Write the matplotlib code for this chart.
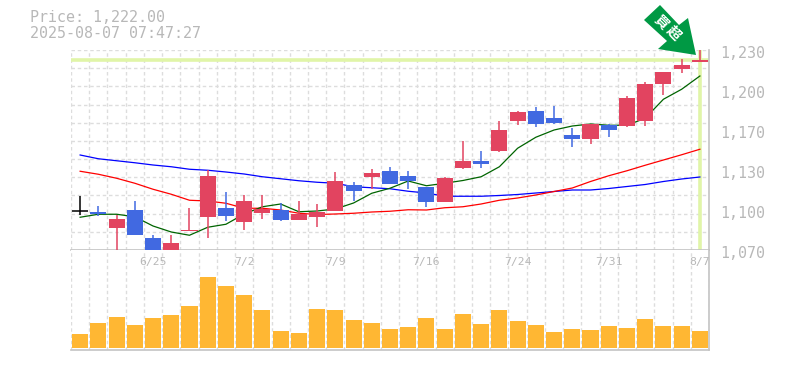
import numpy as np
import matplotlib
matplotlib.use("Agg")
import matplotlib.pyplot as plt
from matplotlib.patches import Polygon

W, H = 785, 370
GRAY = "#b8b8b8"
GRID = "#dddddd"
UP = "#e24460"
DOWN = "#4169e1"
VOL = "#ffb733"
MARK = "#e0f5a8"

opens = [1101, 1100.4, 1087.6, 1102, 1079.6, 1070, 1085.2, 1096.4, 1103.6, 1092.4,
         1099.6, 1102, 1094, 1096.4, 1101.2, 1122, 1128.4, 1133.2, 1129.2, 1120.4,
         1108.4, 1135.6, 1141.2, 1149.2, 1173.2, 1181.2, 1175.6, 1162, 1158.8, 1170,
         1169.2, 1173.2, 1202.8, 1214.8, 1220.4]
highs = [1113.4, 1105.2, 1098, 1109.4, 1082, 1082, 1103.6, 1134, 1116.4, 1114,
         1114, 1107.6, 1109.2, 1106.8, 1132.4, 1124.4, 1134.8, 1136.4, 1133.2, 1120.4,
         1128.4, 1157.2, 1149.2, 1173.2, 1181.2, 1184.4, 1185.2, 1167.6, 1170.8, 1170.8,
         1193.2, 1204.4, 1212.4, 1222.8, 1230]
lows = [1098, 1097.2, 1069.4, 1082, 1068.4, 1069.4, 1085.2, 1079.6, 1093.2, 1086,
        1094.8, 1093.2, 1094, 1088.4, 1101.2, 1109.2, 1118.8, 1122.8, 1118.8, 1104.4,
        1108.4, 1134.8, 1135.6, 1148.4, 1170, 1168.4, 1170.8, 1152.4, 1154.8, 1160.4,
        1168.4, 1169.2, 1194, 1211.6, 1220.4]
closes = [1101, 1098.8, 1094.8, 1082, 1068.4, 1075.6, 1086, 1129.2, 1097.2, 1109.2,
          1102.8, 1094, 1098.8, 1100.4, 1125.2, 1117.2, 1131.6, 1122.8, 1125.2, 1108.4,
          1127.6, 1141.2, 1138.8, 1166, 1180.4, 1170.8, 1171.6, 1158.8, 1170.8, 1166,
          1191.6, 1202.8, 1212.4, 1218, 1222]
ma_short = [1096.2, 1098.6, 1098.6, 1096.6, 1089.2, 1084.4, 1081.8, 1088.2, 1090.6, 1098.8,
            1104.6, 1106.8, 1100.6, 1101.2, 1102.8, 1107.6, 1115.4, 1119.4, 1125.2, 1121.4,
            1123.4, 1125.6, 1128.6, 1136.6, 1151.4, 1160.2, 1166, 1169.2, 1170.8, 1169.8,
            1169.8, 1175.4, 1190.6, 1198.6, 1209.2]
ma_mid = [1133, 1130.6, 1127.4, 1123.4, 1118.6, 1114.6, 1109.8, 1109.2, 1107.4, 1103.4,
          1103.4, 1102, 1099.4, 1098.4, 1098.8, 1099.4, 1100.4, 1101, 1102.2, 1102,
          1103.8, 1104.6, 1106.8, 1109.8, 1111.6, 1114, 1116.8, 1119.6, 1124.8, 1129.4,
          1133.4, 1137.8, 1142, 1146.2, 1150.6]
ma_long = [1146, 1143, 1141.4, 1139.8, 1138, 1136.6, 1134.6, 1133.8, 1132.4, 1130.8,
           1128.6, 1127, 1125.4, 1124.2, 1123.4, 1120.6, 1119.8, 1119, 1117, 1115.6,
           1113, 1113, 1113, 1113.6, 1114.4, 1115.6, 1116.8, 1118, 1118, 1119.2,
           1120.8, 1122.4, 1124.8, 1126.8, 1128.4]
volumes = [1400, 2500, 3100, 2300, 3000, 3300, 4200, 7100, 6200, 5300,
           3800, 1700, 1500, 3900, 3800, 2800, 2500, 1900, 2100, 3000,
           1900, 3400, 2400, 3800, 2700, 2300, 1600, 1900, 1800, 2200,
           2000, 2900, 2200, 2200, 1700]
date_idx = [4, 9, 14, 19, 24, 29, 34]
date_labels = ["6/25", "7/2", "7/9", "7/16", "7/24", "7/31", "8/7"]
price_ticks = [1230, 1198, 1166, 1134, 1102, 1070]
price_labels = ["1,230", "1,200", "1,170", "1,130", "1,100", "1,070"]
last_price = 1222
info_lines = ["Price: 1,222.00", "2025-08-07 07:47:27"]
arrow_text = "買超"


def px_axes(fig, x0, y0, x1, y1):
    # pixel box measured from the top left of the picture
    return fig.add_axes([x0 / W, 1 - y1 / H, (x1 - x0) / W, (y1 - y0) / H])


def style_axes(ax):
    ax.set_xlim(-0.5, 34.5)
    ax.set_xticks(np.arange(-0.5, 35))
    ax.tick_params(length=0, labelbottom=False, labelleft=False)
    ax.grid(True, color=GRID, lw=1.0, ls=(0, (2.5, 2)))
    ax.set_axisbelow(True)
    for side in ["left", "top"]:
        ax.spines[side].set_visible(False)
    for side in ["right", "bottom"]:
        ax.spines[side].set_color("#c4c4c4")
        ax.spines[side].set_linewidth(1.2)


def draw_candles(ax, x):
    for i in x:
        o, c = opens[i], closes[i]
        if o == c:
            color = "black"
        elif c > o:
            color = UP
        else:
            color = DOWN
        ax.vlines(i, lows[i], highs[i], color=color, lw=1.1, zorder=4, clip_on=False)
        if o == c:
            ax.hlines(o, i - 0.44, i + 0.44, color=color, lw=1.1, zorder=4)
        else:
            ax.bar(i, abs(c - o), bottom=min(o, c), width=0.88, color=color, zorder=5,
                   clip_on=False)


def main():
    x = np.arange(len(closes))
    fig = plt.figure(figsize=(W / 100, H / 100), dpi=100)
    ax = px_axes(fig, 71, 50, 709, 250)
    ax_vol = px_axes(fig, 71, 250, 709, 350)

    style_axes(ax)
    ax.set_ylim(1070, 1230)
    ax.set_yticks(np.linspace(1070, 1230, 12))
    ax.axhline(last_price, color=MARK, lw=2.6, zorder=2)
    ax.axvline(x[-1], color=MARK, lw=2.6, zorder=2)
    ax.plot(x, ma_long, color="#0000ff", lw=0.9, zorder=3)
    ax.plot(x, ma_mid, color="#ff0000", lw=0.9, zorder=3)
    ax.plot(x, ma_short, color="#006400", lw=0.9, zorder=3)
    draw_candles(ax, x)

    for val, lab in zip(price_ticks, price_labels):
        ax.annotate(lab, xy=(1, val), xycoords=ax.get_yaxis_transform(),
                    xytext=(8, -2.2), textcoords="offset points", ha="left", va="center",
                    color=GRAY, fontsize=10.8, family="DejaVu Sans Mono",
                    annotation_clip=False)

    style_axes(ax_vol)
    ax_vol.set_ylim(-200, 9800)
    ax_vol.set_yticks([])
    ax_vol.bar(x, volumes, width=0.88, color=VOL, zorder=3)
    for i, lab in zip(date_idx, date_labels):
        ax_vol.annotate(lab, xy=(i, 1), xycoords=ax_vol.get_xaxis_transform(),
                        xytext=(0, -8.6), textcoords="offset points", ha="center", va="center",
                        color=GRAY, fontsize=8.2, family="DejaVu Sans Mono")

    for y, line in zip([18, 33], info_lines):
        fig.text(30 / W, 1 - y / H, line, color=GRAY, fontsize=10.8,
                 family="DejaVu Sans Mono", ha="left", va="center")

    # signal arrow above the last candle
    arrow_px = [(660, 5), (644, 20), (667, 41), (658, 49), (696, 55), (688, 18), (679, 25)]
    arrow = Polygon([(px / W, 1 - py / H) for px, py in arrow_px], closed=True,
                    transform=fig.transFigure, facecolor="#009944", edgecolor="none", zorder=10)
    fig.add_artist(arrow)
    fig.text(661 / W, 1 - 22 / H, arrow_text[0], color="white", fontsize=10, weight="bold",
             family=["Noto Sans CJK JP", "DejaVu Sans"], rotation=-45,
             ha="center", va="center", rotation_mode="anchor", zorder=11)
    fig.text(673 / W, 1 - 33 / H, arrow_text[1], color="white", fontsize=10, weight="bold",
             family=["Noto Sans CJK JP", "DejaVu Sans"], rotation=-45,
             ha="center", va="center", rotation_mode="anchor", zorder=11)

    fig.savefig("out.png", dpi=100)
    plt.close(fig)


if __name__ == "__main__":
    main()
